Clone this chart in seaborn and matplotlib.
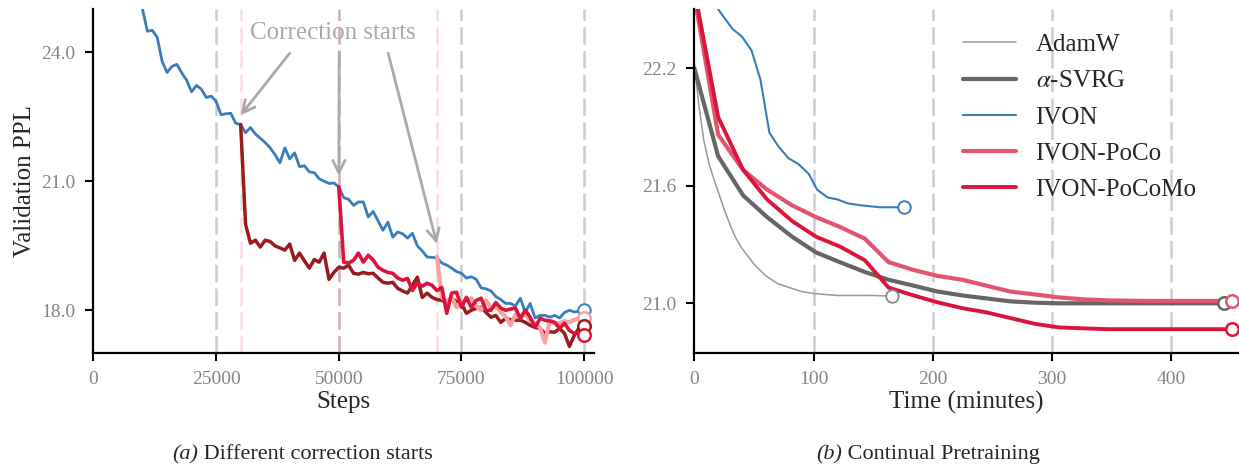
import matplotlib

matplotlib.use("Agg")
import matplotlib.pyplot as plt
import numpy as np
import seaborn as sns

# ---------------- data: (a) different correction starts ----------------
ivon_steps = np.arange(9000, 101000, 1000)
ivon_ppl = [
    25.5, 25.0, 24.49, 24.51, 24.35, 23.79, 23.53, 23.67, 23.72, 23.52, 23.35,
    23.08, 23.23, 23.14, 22.95, 22.98, 22.86, 22.55, 22.57, 22.58, 22.35,
    22.32, 22.13, 22.25, 22.1, 22.0, 21.9, 21.78, 21.62, 21.43, 21.78,
    21.52, 21.66, 21.34, 21.36, 21.22, 21.2, 21.06, 21.0, 20.95, 20.96,
    20.87, 20.62, 20.58, 20.44, 20.52, 20.52, 20.17, 20.3, 20.08, 19.86,
    20.05, 19.7, 19.82, 19.78, 19.68, 19.79, 19.5, 19.38, 19.24, 19.23,
    19.22, 19.1, 19.05, 18.98, 18.9, 18.86, 18.75, 18.78, 18.72, 18.52,
    18.5, 18.45, 18.32, 18.25, 18.16, 18.16, 18.1, 18.28, 17.95, 18.16,
    17.82, 17.88, 17.88, 17.84, 17.88, 17.82, 17.95, 18.0, 17.96, 17.98,
    18.0,
]

poco30_steps = np.arange(30000, 101000, 1000)
poco30_ppl = [
    22.32, 20.0, 19.56, 19.63, 19.47, 19.63, 19.6, 19.5, 19.45, 19.4,
    19.54, 19.16, 19.33, 19.15, 18.98, 19.18, 19.12, 19.33, 18.72, 18.88,
    19.0, 18.98, 19.05, 18.86, 18.84, 18.88, 18.85, 18.86, 18.75, 18.65,
    18.63, 18.65, 18.51, 18.45, 18.4, 18.58, 18.77, 18.3, 18.4, 18.3,
    18.25, 18.23, 18.18, 18.28, 18.2, 18.16, 17.93, 18.0, 18.05, 18.07,
    17.95, 17.84, 17.88, 17.72, 17.81, 17.78, 17.77, 17.77, 17.72, 17.65,
    17.6, 17.58, 17.46, 17.5, 17.49, 17.58, 17.46, 17.16, 17.42, 17.6,
    17.63,
]

poco50_steps = np.arange(50000, 101000, 1000)
poco50_ppl = [
    20.87, 19.12, 19.1, 19.16, 19.33, 19.12, 19.28, 19.17, 19.0, 18.93,
    18.88, 18.86, 18.75, 18.7, 18.74, 18.46, 18.63, 18.56, 18.63, 18.58,
    18.46, 18.53, 17.93, 18.4, 18.42, 18.07, 18.3, 18.07, 18.23, 18.28,
    18.0, 18.0, 18.18, 18.05, 18.0, 18.03, 18.05, 17.81, 18.0, 17.84,
    17.6, 17.81, 17.77, 17.75, 17.72, 17.58, 17.7, 17.53, 17.46, 17.49,
    17.42,
]

poco70_steps = np.arange(70000, 101000, 1000)
poco70_ppl = [
    19.25, 18.3, 18.2, 18.3, 18.07, 18.2, 18.23, 18.28, 18.1, 18.0,
    18.23, 18.05, 18.1, 17.95, 17.85, 17.65, 17.9, 17.85, 17.9, 17.77,
    17.7, 17.6, 17.25, 17.77, 17.7, 17.7, 17.75, 17.72, 17.78, 17.8,
    17.81,
]

correction_starts = [30000, 50000, 70000]
arrow_tips = [22.535, 21.13, 19.54]

# ---------------- data: (b) continual pretraining ----------------
adamw_t = [0, 4, 8, 12, 16, 20, 25, 30, 35, 40, 50, 60, 70, 80, 90, 100,
           110, 120, 135, 150, 166]
adamw_ppl = [22.22, 22.0, 21.83, 21.72, 21.64, 21.57, 21.48, 21.4, 21.33,
             21.28, 21.2, 21.14, 21.1, 21.08, 21.06, 21.05, 21.045, 21.04,
             21.04, 21.04, 21.036]

svrg_t = [0, 20, 41, 61, 82, 102, 122, 143, 163, 184, 204, 225, 245, 265,
          286, 306, 327, 347, 368, 388, 409, 429, 444]
svrg_ppl = [22.2, 21.75, 21.55, 21.44, 21.34, 21.26, 21.21, 21.16, 21.12,
            21.09, 21.06, 21.04, 21.025, 21.01, 21.003, 21.0, 21.0, 21.0,
            21.0, 21.0, 21.0, 21.0, 21.0]

ivon_t = [0, 20, 32, 40, 48, 55.5, 63, 70.6, 79, 87.4, 96, 103, 111.8, 120,
          128.6, 139.5, 156, 175.6]
ivon_cp_ppl = [23.2, 22.5, 22.4, 22.36, 22.29, 22.14, 21.87, 21.8, 21.74,
               21.71, 21.66, 21.58, 21.54, 21.53, 21.51, 21.5, 21.49, 21.49]

poco_t = [0, 20, 41, 61, 82, 102, 122, 143, 163, 184, 204, 225, 245, 265,
          286, 306, 327, 347, 368, 388, 409, 429, 451]
poco_ppl = [22.57, 21.86, 21.68, 21.58, 21.5, 21.44, 21.39, 21.33, 21.21,
            21.17, 21.14, 21.12, 21.09, 21.06, 21.045, 21.03, 21.02, 21.015,
            21.013, 21.012, 21.012, 21.012, 21.012]
pocomo_ppl = [22.6, 21.95, 21.68, 21.53, 21.42, 21.34, 21.29, 21.22, 21.08,
              21.04, 21.005, 20.975, 20.954, 20.925, 20.895, 20.877, 20.872,
              20.868, 20.868, 20.868, 20.868, 20.868, 20.868]

# ---------------- style ----------------
sns.set_style("ticks")
plt.rcParams["font.family"] = ["Liberation Serif", "DejaVu Serif"]
plt.rcParams["mathtext.fontset"] = "stix"

GRID = "#cccccc"
TICK = "#858585"
BLUE = "#3a7dba"
DARKRED = "#9a1b1e"
CRIMSON = "#dc143c"
SALMON = "#f7a3a3"
PINK = "#e2556f"
DASH = (0, (7, 2.5))


def style_axis(ax):
    for side in ("top", "right"):
        ax.spines[side].set_visible(False)
    for side in ("left", "bottom"):
        ax.spines[side].set_linewidth(1.6)
        ax.spines[side].set_color("black")
    ax.tick_params(length=6, width=1.5, color="black", labelcolor=TICK,
                   labelsize=14, pad=7, direction="out")


def end_marker(ax, x, y, color, mew=1.8):
    ax.plot(x[-1], y[-1], "o", ms=9, mfc="white", mec=color, mew=mew, zorder=5)


fig = plt.figure(figsize=(12.39, 4.67), dpi=100)
ax1 = fig.add_axes([0.0754, 0.2435, 0.4040, 0.7366])
ax2 = fig.add_axes([0.5604, 0.2435, 0.4396, 0.7366])

# ---- (a)
for s in [25000, 50000, 75000, 100000]:
    ax1.axvline(s, color=GRID, lw=1.8, ls=DASH, zorder=0)
for s in correction_starts:
    ax1.axvline(s, color=CRIMSON, alpha=0.15, lw=1.8, ls=DASH, zorder=0)

sns.lineplot(x=ivon_steps, y=ivon_ppl, ax=ax1, color=BLUE, lw=2)
sns.lineplot(x=poco30_steps, y=poco30_ppl, ax=ax1, color=DARKRED, lw=2.5)
sns.lineplot(x=poco70_steps, y=poco70_ppl, ax=ax1, color=SALMON, lw=3)
sns.lineplot(x=poco50_steps, y=poco50_ppl, ax=ax1, color=CRIMSON, lw=2.6)
end_marker(ax1, ivon_steps, ivon_ppl, BLUE, 1.4)
end_marker(ax1, poco70_steps, poco70_ppl, SALMON)
end_marker(ax1, poco30_steps, poco30_ppl, DARKRED)
end_marker(ax1, poco50_steps, poco50_ppl, CRIMSON)

ax1.text(48800, 24.45, "Correction starts", color="#aaaaaa", fontsize=18,
         ha="center", va="center")
tails = [(40000, 23.98), (50080, 24.01), (60060, 23.98)]
for (tx, ty), sx, sy in zip(tails, correction_starts, arrow_tips):
    ax1.annotate("", xy=(sx, sy), xytext=(tx, ty),
                 arrowprops=dict(arrowstyle="->", color="#aaaaaa", lw=2,
                                 mutation_scale=22, shrinkA=0, shrinkB=0))

ax1.set_xlim(0, 102000)
ax1.set_ylim(17.0, 25.0)
ax1.set_xticks([0, 25000, 50000, 75000, 100000])
ax1.set_yticks([18, 21, 24])
ax1.set_yticklabels([f"{v:.1f}" for v in [18, 21, 24]])
ax1.set_xlabel("Steps", fontsize=18, labelpad=2)
ax1.set_ylabel("Validation PPL", fontsize=18, labelpad=4)
style_axis(ax1)

# ---- (b)
for t in [100, 200, 300, 400]:
    ax2.axvline(t, color=GRID, lw=1.8, ls=DASH, zorder=0)

sns.lineplot(x=adamw_t, y=adamw_ppl, ax=ax2, color="#999999", lw=1.1,
             label="AdamW")
sns.lineplot(x=svrg_t, y=svrg_ppl, ax=ax2, color="#666666", lw=3,
             label=r"$\alpha$-SVRG")
sns.lineplot(x=ivon_t, y=ivon_cp_ppl, ax=ax2, color=BLUE, lw=1.5,
             label="IVON")
sns.lineplot(x=poco_t, y=poco_ppl, ax=ax2, color=PINK, lw=3,
             label="IVON-PoCo")
sns.lineplot(x=poco_t, y=pocomo_ppl, ax=ax2, color=CRIMSON, lw=2.8,
             label="IVON-PoCoMo")
end_marker(ax2, adamw_t, adamw_ppl, "#888888", 1.3)
end_marker(ax2, svrg_t, svrg_ppl, "#666666")
end_marker(ax2, ivon_t, ivon_cp_ppl, BLUE, 1.4)
end_marker(ax2, poco_t, poco_ppl, PINK)
end_marker(ax2, poco_t, pocomo_ppl, CRIMSON)

ax2.legend(loc="upper left", bbox_to_anchor=(0.452, 0.995), frameon=False,
           fontsize=18, handlelength=2.1, handletextpad=0.8, labelspacing=0.55)

ax2.set_xlim(0, 457)
ax2.set_ylim(20.745, 22.5)
ax2.set_xticks([0, 100, 200, 300, 400])
ax2.set_yticks([21.0, 21.6, 22.2])
ax2.set_yticklabels([f"{v:.1f}" for v in [21.0, 21.6, 22.2]])
ax2.set_xlabel("Time (minutes)", fontsize=18, labelpad=2)
ax2.set_ylabel("")
style_axis(ax2)

# ---- captions
cap_y = 0.026
fig.text(198 / 1239, cap_y, "(a)", style="italic", fontsize=16, ha="right",
         va="center")
fig.text(198 / 1239, cap_y, " Different correction starts", fontsize=16,
         ha="left", va="center")
fig.text(842 / 1239, cap_y, "(b)", style="italic", fontsize=16, ha="right",
         va="center")
fig.text(842 / 1239, cap_y, " Continual Pretraining", fontsize=16,
         ha="left", va="center")

fig.savefig("out.png", dpi=100)
